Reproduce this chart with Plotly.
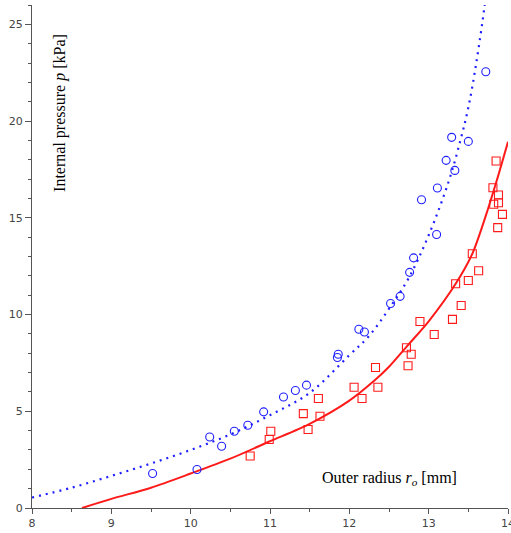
import plotly.graph_objects as go

# ---- data ----
blue_x = [9.52, 10.08, 10.24, 10.39, 10.55, 10.72, 10.92, 11.17, 11.32, 11.46, 11.85, 11.86,
          12.12, 12.19, 12.52, 12.64, 12.76, 12.81, 12.91, 13.10, 13.11, 13.22, 13.29, 13.33,
          13.50, 13.72]
blue_y = [1.78, 1.99, 3.67, 3.19, 3.97, 4.28, 4.97, 5.74, 6.07, 6.35, 7.78, 7.95,
          9.24, 9.10, 10.57, 10.94, 12.18, 12.93, 15.93, 14.14, 16.54, 17.97, 19.16, 17.45,
          18.95, 22.55]

red_x = [10.75, 10.99, 11.01, 11.42, 11.48, 11.61, 11.63, 12.06, 12.16, 12.33, 12.36,
         12.72, 12.74, 12.78, 12.89, 13.07, 13.30, 13.34, 13.41, 13.50, 13.55, 13.63,
         13.81, 13.82, 13.85, 13.87, 13.88, 13.88, 13.93]
red_y = [2.69, 3.54, 3.97, 4.88, 4.06, 5.66, 4.74, 6.24, 5.66, 7.26, 6.24,
         8.28, 7.35, 7.95, 9.64, 8.97, 9.75, 11.59, 10.47, 11.76, 13.14, 12.26,
         16.55, 15.70, 17.94, 14.49, 15.78, 16.18, 15.18]

blue_fit_x = [8.0, 8.5, 9.0, 9.5, 10.0, 10.5, 11.0, 11.5, 12.0, 12.25, 12.5, 12.75,
              13.0, 13.25, 13.4, 13.5, 13.6, 13.7, 13.72]
blue_fit_y = [0.54, 1.05, 1.66, 2.30, 3.0, 3.8, 4.8, 5.95, 7.9, 8.9, 10.3, 11.9,
              14.1, 16.85, 19.0, 20.7, 23.0, 25.8, 26.5]

red_fit_x = [8.63, 9.0, 9.5, 10.0, 10.5, 11.0, 11.5, 12.0, 12.32, 12.5, 12.72, 13.0,
             13.34, 13.55, 13.73, 13.86, 14.0]
red_fit_y = [0.0, 0.47, 1.05, 1.78, 2.55, 3.45, 4.35, 5.55, 6.6, 7.3, 8.33, 9.65,
             11.59, 13.14, 15.23, 16.95, 18.93]

x_ticks = [8, 9, 10, 11, 12, 13, 14]
y_ticks = [0, 5, 10, 15, 20, 25]

BLUE = "#1f1fff"
RED = "#ff1a1a"

fig = go.Figure()
fig.add_trace(go.Scatter(x=blue_fit_x, y=blue_fit_y, mode="lines",
                         line=dict(color=BLUE, width=2.2, dash="2px,5px", shape="spline"),
                         hoverinfo="skip"))
fig.add_trace(go.Scatter(x=red_fit_x, y=red_fit_y, mode="lines",
                         line=dict(color=RED, width=2, shape="spline", smoothing=0.8),
                         hoverinfo="skip"))
fig.add_trace(go.Scatter(x=blue_x, y=blue_y, mode="markers",
                         marker=dict(symbol="circle-open", size=8, color=BLUE,
                                     line=dict(width=1.1, color=BLUE))))
fig.add_trace(go.Scatter(x=red_x, y=red_y, mode="markers",
                         marker=dict(symbol="square-open", size=8, color=RED,
                                     line=dict(width=1.1, color=RED))))

axis_common = dict(showline=True, linecolor="#555555", linewidth=1, showgrid=False,
                   zeroline=False, ticks="outside", tickcolor="#555555", tickwidth=1,
                   automargin=False, ticklabeloverflow="allow",
                   tickfont=dict(family="DejaVu Sans", size=11, color="#444444"))

fig.update_xaxes(range=[8, 14], tickvals=x_ticks, ticklen=5,
                 minor=dict(dtick=0.5, ticks="outside", ticklen=3, tickcolor="#555555"),
                 **axis_common)
fig.update_yaxes(range=[0, 26], tickvals=y_ticks, ticklen=6,
                 minor=dict(dtick=1, ticks="outside", ticklen=3, tickcolor="#555555"),
                 **axis_common)

fig.add_annotation(x=8.36, y=20.4, xref="x", yref="y", textangle=-90, showarrow=False,
                   text="Internal pressure <i>p</i> [kPa]",
                   font=dict(family="Liberation Serif", size=16, color="black"))
fig.add_annotation(x=12.51, y=1.54, xref="x", yref="y", showarrow=False,
                   text="Outer radius <i>r</i><sub><i>o</i></sub> [mm]",
                   font=dict(family="Liberation Serif", size=16, color="black"))

fig.update_layout(width=511, height=533, showlegend=False,
                  margin=dict(l=32, r=3, t=5, b=25),
                  plot_bgcolor="white", paper_bgcolor="white")

fig.write_html("out.html", config={"displayModeBar": False},
               post_script="document.body.style.margin='0px';document.body.style.overflow='hidden';")
